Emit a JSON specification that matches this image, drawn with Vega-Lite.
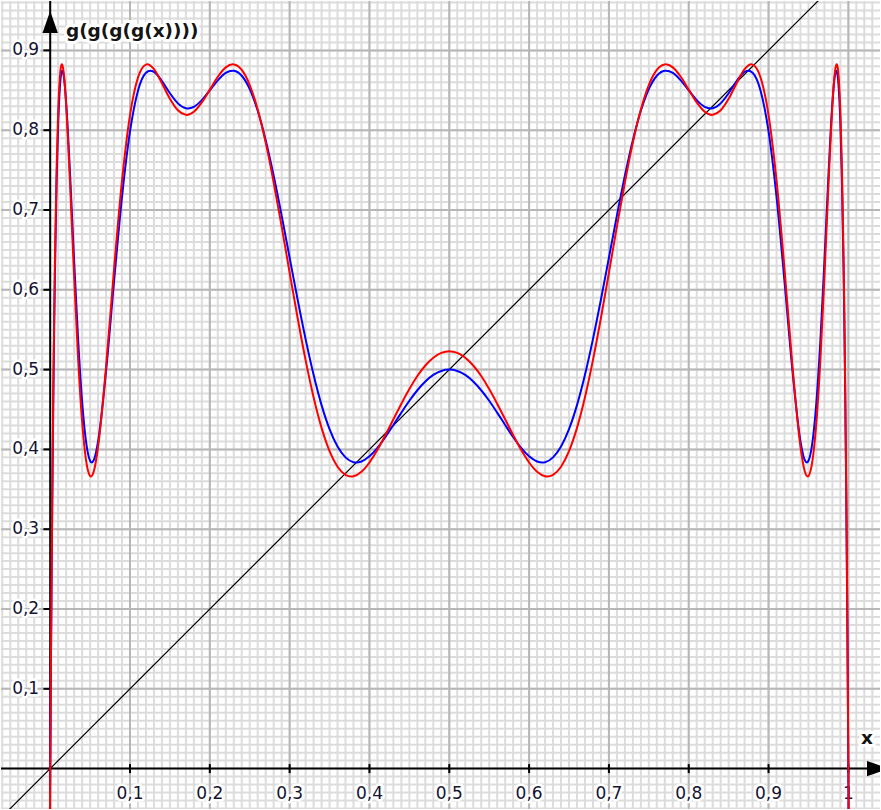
{
  "$schema": "https://vega.github.io/schema/vega-lite/v6.json",
  "width": 881,
  "height": 810,
  "autosize": {"type": "fit", "contains": "padding"},
  "padding": 0,
  "background": "white",
  "config": {"view": {"stroke": null}},
  "datasets": {
    "minor": [
      {"v": -0.06}, {"v": -0.05}, {"v": -0.04}, {"v": -0.03}, {"v": -0.02}, {"v": -0.01}, {"v": 0}, {"v": 0.01}, {"v": 0.02}, {"v": 0.03},
      {"v": 0.04}, {"v": 0.05}, {"v": 0.06}, {"v": 0.07}, {"v": 0.08}, {"v": 0.09}, {"v": 0.1}, {"v": 0.11}, {"v": 0.12}, {"v": 0.13},
      {"v": 0.14}, {"v": 0.15}, {"v": 0.16}, {"v": 0.17}, {"v": 0.18}, {"v": 0.19}, {"v": 0.2}, {"v": 0.21}, {"v": 0.22}, {"v": 0.23},
      {"v": 0.24}, {"v": 0.25}, {"v": 0.26}, {"v": 0.27}, {"v": 0.28}, {"v": 0.29}, {"v": 0.3}, {"v": 0.31}, {"v": 0.32}, {"v": 0.33},
      {"v": 0.34}, {"v": 0.35}, {"v": 0.36}, {"v": 0.37}, {"v": 0.38}, {"v": 0.39}, {"v": 0.4}, {"v": 0.41}, {"v": 0.42}, {"v": 0.43},
      {"v": 0.44}, {"v": 0.45}, {"v": 0.46}, {"v": 0.47}, {"v": 0.48}, {"v": 0.49}, {"v": 0.5}, {"v": 0.51}, {"v": 0.52}, {"v": 0.53},
      {"v": 0.54}, {"v": 0.55}, {"v": 0.56}, {"v": 0.57}, {"v": 0.58}, {"v": 0.59}, {"v": 0.6}, {"v": 0.61}, {"v": 0.62}, {"v": 0.63},
      {"v": 0.64}, {"v": 0.65}, {"v": 0.66}, {"v": 0.67}, {"v": 0.68}, {"v": 0.69}, {"v": 0.7}, {"v": 0.71}, {"v": 0.72}, {"v": 0.73},
      {"v": 0.74}, {"v": 0.75}, {"v": 0.76}, {"v": 0.77}, {"v": 0.78}, {"v": 0.79}, {"v": 0.8}, {"v": 0.81}, {"v": 0.82}, {"v": 0.83},
      {"v": 0.84}, {"v": 0.85}, {"v": 0.86}, {"v": 0.87}, {"v": 0.88}, {"v": 0.89}, {"v": 0.9}, {"v": 0.91}, {"v": 0.92}, {"v": 0.93},
      {"v": 0.94}, {"v": 0.95}, {"v": 0.96}, {"v": 0.97}, {"v": 0.98}, {"v": 0.99}, {"v": 1}, {"v": 1.01}, {"v": 1.02}, {"v": 1.03}
    ],
    "xlab": [
      {"v": 0.1, "t": "0,1"}, {"v": 0.2, "t": "0,2"}, {"v": 0.3, "t": "0,3"}, {"v": 0.4, "t": "0,4"}, {"v": 0.5, "t": "0,5"},
      {"v": 0.6, "t": "0,6"}, {"v": 0.7, "t": "0,7"}, {"v": 0.8, "t": "0,8"}, {"v": 0.9, "t": "0,9"}, {"v": 1, "t": "1"}
    ],
    "ylab": [
      {"v": 0.1, "t": "0,1"}, {"v": 0.2, "t": "0,2"}, {"v": 0.3, "t": "0,3"}, {"v": 0.4, "t": "0,4"}, {"v": 0.5, "t": "0,5"},
      {"v": 0.6, "t": "0,6"}, {"v": 0.7, "t": "0,7"}, {"v": 0.8, "t": "0,8"}, {"v": 0.9, "t": "0,9"}
    ],
    "diag": [{"x": -0.07, "y": -0.07}, {"x": 1.05, "y": 1.05}],
    "blue": [
      {"x": -0.003, "y": -0.5363}, {"x": 0, "y": 0}, {"x": 0.001, "y": 0.1411}, {"x": 0.002, "y": 0.2657}, {"x": 0.003, "y": 0.3752},
      {"x": 0.004, "y": 0.4705}, {"x": 0.005, "y": 0.553}, {"x": 0.006, "y": 0.6237}, {"x": 0.008, "y": 0.7336}, {"x": 0.01, "y": 0.8074},
      {"x": 0.012, "y": 0.8517}, {"x": 0.014, "y": 0.8719}, {"x": 0.0151, "y": 0.8746}, {"x": 0.016, "y": 0.8731}, {"x": 0.018, "y": 0.8594},
      {"x": 0.02, "y": 0.8345}, {"x": 0.025, "y": 0.7427}, {"x": 0.03, "y": 0.636}, {"x": 0.035, "y": 0.5375}, {"x": 0.04, "y": 0.4599},
      {"x": 0.045, "y": 0.4091}, {"x": 0.05, "y": 0.3857}, {"x": 0.0521, "y": 0.3836}, {"x": 0.055, "y": 0.3874}, {"x": 0.06, "y": 0.4101},
      {"x": 0.07, "y": 0.498}, {"x": 0.08, "y": 0.6104}, {"x": 0.09, "y": 0.7165}, {"x": 0.1, "y": 0.7984}, {"x": 0.11, "y": 0.8495},
      {"x": 0.12, "y": 0.872}, {"x": 0.1254, "y": 0.8746}, {"x": 0.13, "y": 0.873}, {"x": 0.14, "y": 0.8616}, {"x": 0.15, "y": 0.8463},
      {"x": 0.16, "y": 0.8336}, {"x": 0.17, "y": 0.8275}, {"x": 0.1728, "y": 0.8272}, {"x": 0.18, "y": 0.8292}, {"x": 0.19, "y": 0.8376},
      {"x": 0.2, "y": 0.8499}, {"x": 0.21, "y": 0.8625}, {"x": 0.22, "y": 0.8718}, {"x": 0.2283, "y": 0.8746}, {"x": 0.23, "y": 0.8745},
      {"x": 0.24, "y": 0.8682}, {"x": 0.25, "y": 0.8515}, {"x": 0.26, "y": 0.8243}, {"x": 0.27, "y": 0.7875}, {"x": 0.28, "y": 0.7429},
      {"x": 0.29, "y": 0.6929}, {"x": 0.3, "y": 0.6402}, {"x": 0.31, "y": 0.5878}, {"x": 0.32, "y": 0.5382}, {"x": 0.33, "y": 0.4935},
      {"x": 0.34, "y": 0.4555}, {"x": 0.35, "y": 0.4254}, {"x": 0.36, "y": 0.4036}, {"x": 0.37, "y": 0.39}, {"x": 0.38, "y": 0.384},
      {"x": 0.3836, "y": 0.3836}, {"x": 0.39, "y": 0.3849}, {"x": 0.4, "y": 0.3913}, {"x": 0.41, "y": 0.4019}, {"x": 0.42, "y": 0.4155},
      {"x": 0.43, "y": 0.4306}, {"x": 0.44, "y": 0.4461}, {"x": 0.45, "y": 0.4609}, {"x": 0.46, "y": 0.4741}, {"x": 0.47, "y": 0.4851},
      {"x": 0.48, "y": 0.4933}, {"x": 0.49, "y": 0.4983}, {"x": 0.5, "y": 0.5},
      {"x": 0.51, "y": 0.4983}, {"x": 0.52, "y": 0.4933}, {"x": 0.53, "y": 0.4851}, {"x": 0.54, "y": 0.4741}, {"x": 0.55, "y": 0.4609},
      {"x": 0.56, "y": 0.4461}, {"x": 0.57, "y": 0.4306}, {"x": 0.58, "y": 0.4155}, {"x": 0.59, "y": 0.4019}, {"x": 0.6, "y": 0.3913},
      {"x": 0.61, "y": 0.3849}, {"x": 0.6164, "y": 0.3836}, {"x": 0.62, "y": 0.384}, {"x": 0.63, "y": 0.39}, {"x": 0.64, "y": 0.4036},
      {"x": 0.65, "y": 0.4254}, {"x": 0.66, "y": 0.4555}, {"x": 0.67, "y": 0.4935}, {"x": 0.68, "y": 0.5382}, {"x": 0.69, "y": 0.5878},
      {"x": 0.7, "y": 0.6402}, {"x": 0.71, "y": 0.6929}, {"x": 0.72, "y": 0.7429}, {"x": 0.73, "y": 0.7875}, {"x": 0.74, "y": 0.8243},
      {"x": 0.75, "y": 0.8515}, {"x": 0.76, "y": 0.8682}, {"x": 0.77, "y": 0.8745}, {"x": 0.7717, "y": 0.8746}, {"x": 0.78, "y": 0.8718},
      {"x": 0.79, "y": 0.8625}, {"x": 0.8, "y": 0.8499}, {"x": 0.81, "y": 0.8376}, {"x": 0.82, "y": 0.8292}, {"x": 0.8272, "y": 0.8272},
      {"x": 0.83, "y": 0.8275}, {"x": 0.84, "y": 0.8336}, {"x": 0.85, "y": 0.8463}, {"x": 0.86, "y": 0.8616}, {"x": 0.87, "y": 0.873},
      {"x": 0.8746, "y": 0.8746}, {"x": 0.88, "y": 0.872}, {"x": 0.89, "y": 0.8495}, {"x": 0.9, "y": 0.7984}, {"x": 0.91, "y": 0.7165},
      {"x": 0.92, "y": 0.6104}, {"x": 0.93, "y": 0.498}, {"x": 0.94, "y": 0.4101}, {"x": 0.945, "y": 0.3874}, {"x": 0.9479, "y": 0.3836},
      {"x": 0.95, "y": 0.3857}, {"x": 0.955, "y": 0.4091}, {"x": 0.96, "y": 0.4599}, {"x": 0.965, "y": 0.5375}, {"x": 0.97, "y": 0.636},
      {"x": 0.975, "y": 0.7427}, {"x": 0.98, "y": 0.8345}, {"x": 0.982, "y": 0.8594}, {"x": 0.984, "y": 0.8731}, {"x": 0.9849, "y": 0.8746},
      {"x": 0.986, "y": 0.8719}, {"x": 0.988, "y": 0.8517}, {"x": 0.99, "y": 0.8074}, {"x": 0.992, "y": 0.7336}, {"x": 0.994, "y": 0.6237},
      {"x": 0.995, "y": 0.553}, {"x": 0.996, "y": 0.4705}, {"x": 0.997, "y": 0.3752}, {"x": 0.998, "y": 0.2657}, {"x": 0.999, "y": 0.1411},
      {"x": 1, "y": 0}, {"x": 1.003, "y": -0.5363}
    ],
    "red": [
      {"x": -0.003, "y": -0.5582}, {"x": 0, "y": 0}, {"x": 0.001, "y": 0.1461}, {"x": 0.002, "y": 0.2746}, {"x": 0.003, "y": 0.3871},
      {"x": 0.004, "y": 0.4847}, {"x": 0.005, "y": 0.5688}, {"x": 0.006, "y": 0.6404}, {"x": 0.008, "y": 0.7506}, {"x": 0.01, "y": 0.823},
      {"x": 0.012, "y": 0.8647}, {"x": 0.014, "y": 0.8815}, {"x": 0.0147, "y": 0.8825}, {"x": 0.016, "y": 0.8787}, {"x": 0.018, "y": 0.8608},
      {"x": 0.02, "y": 0.8316}, {"x": 0.025, "y": 0.7299}, {"x": 0.03, "y": 0.6159}, {"x": 0.035, "y": 0.5131}, {"x": 0.04, "y": 0.4347},
      {"x": 0.045, "y": 0.3858}, {"x": 0.05, "y": 0.3666}, {"x": 0.051, "y": 0.366}, {"x": 0.055, "y": 0.3739}, {"x": 0.06, "y": 0.403},
      {"x": 0.07, "y": 0.5038}, {"x": 0.08, "y": 0.6259}, {"x": 0.09, "y": 0.737}, {"x": 0.1, "y": 0.8189}, {"x": 0.11, "y": 0.866},
      {"x": 0.12, "y": 0.8822}, {"x": 0.1216, "y": 0.8825}, {"x": 0.13, "y": 0.8764}, {"x": 0.14, "y": 0.8589}, {"x": 0.15, "y": 0.8394},
      {"x": 0.16, "y": 0.8249}, {"x": 0.17, "y": 0.8192}, {"x": 0.1708, "y": 0.8191}, {"x": 0.18, "y": 0.8231}, {"x": 0.19, "y": 0.8348},
      {"x": 0.2, "y": 0.8508}, {"x": 0.21, "y": 0.8669}, {"x": 0.22, "y": 0.8787}, {"x": 0.2288, "y": 0.8825}, {"x": 0.23, "y": 0.8824},
      {"x": 0.24, "y": 0.8755}, {"x": 0.25, "y": 0.8566}, {"x": 0.26, "y": 0.8258}, {"x": 0.27, "y": 0.7844}, {"x": 0.28, "y": 0.7345},
      {"x": 0.29, "y": 0.6791}, {"x": 0.3, "y": 0.6214}, {"x": 0.31, "y": 0.5647}, {"x": 0.32, "y": 0.5119}, {"x": 0.33, "y": 0.4654},
      {"x": 0.34, "y": 0.427}, {"x": 0.35, "y": 0.3979}, {"x": 0.36, "y": 0.3783}, {"x": 0.37, "y": 0.3681}, {"x": 0.3771, "y": 0.366},
      {"x": 0.38, "y": 0.3664}, {"x": 0.39, "y": 0.372}, {"x": 0.4, "y": 0.3836}, {"x": 0.41, "y": 0.3994}, {"x": 0.42, "y": 0.418},
      {"x": 0.43, "y": 0.4377}, {"x": 0.44, "y": 0.4573}, {"x": 0.45, "y": 0.4757}, {"x": 0.46, "y": 0.4919}, {"x": 0.47, "y": 0.5051},
      {"x": 0.48, "y": 0.5149}, {"x": 0.49, "y": 0.5209}, {"x": 0.5, "y": 0.523},
      {"x": 0.51, "y": 0.5209}, {"x": 0.52, "y": 0.5149}, {"x": 0.53, "y": 0.5051}, {"x": 0.54, "y": 0.4919}, {"x": 0.55, "y": 0.4757},
      {"x": 0.56, "y": 0.4573}, {"x": 0.57, "y": 0.4377}, {"x": 0.58, "y": 0.418}, {"x": 0.59, "y": 0.3994}, {"x": 0.6, "y": 0.3836},
      {"x": 0.61, "y": 0.372}, {"x": 0.62, "y": 0.3664}, {"x": 0.6229, "y": 0.366}, {"x": 0.63, "y": 0.3681}, {"x": 0.64, "y": 0.3783},
      {"x": 0.65, "y": 0.3979}, {"x": 0.66, "y": 0.427}, {"x": 0.67, "y": 0.4654}, {"x": 0.68, "y": 0.5119}, {"x": 0.69, "y": 0.5647},
      {"x": 0.7, "y": 0.6214}, {"x": 0.71, "y": 0.6791}, {"x": 0.72, "y": 0.7345}, {"x": 0.73, "y": 0.7844}, {"x": 0.74, "y": 0.8258},
      {"x": 0.75, "y": 0.8566}, {"x": 0.76, "y": 0.8755}, {"x": 0.77, "y": 0.8824}, {"x": 0.7712, "y": 0.8825}, {"x": 0.78, "y": 0.8787},
      {"x": 0.79, "y": 0.8669}, {"x": 0.8, "y": 0.8508}, {"x": 0.81, "y": 0.8348}, {"x": 0.82, "y": 0.8231}, {"x": 0.8292, "y": 0.8191},
      {"x": 0.83, "y": 0.8192}, {"x": 0.84, "y": 0.8249}, {"x": 0.85, "y": 0.8394}, {"x": 0.86, "y": 0.8589}, {"x": 0.87, "y": 0.8764},
      {"x": 0.8784, "y": 0.8825}, {"x": 0.88, "y": 0.8822}, {"x": 0.89, "y": 0.866}, {"x": 0.9, "y": 0.8189}, {"x": 0.91, "y": 0.737},
      {"x": 0.92, "y": 0.6259}, {"x": 0.93, "y": 0.5038}, {"x": 0.94, "y": 0.403}, {"x": 0.945, "y": 0.3739}, {"x": 0.949, "y": 0.366},
      {"x": 0.95, "y": 0.3666}, {"x": 0.955, "y": 0.3858}, {"x": 0.96, "y": 0.4347}, {"x": 0.965, "y": 0.5131}, {"x": 0.97, "y": 0.6159},
      {"x": 0.975, "y": 0.7299}, {"x": 0.98, "y": 0.8316}, {"x": 0.982, "y": 0.8608}, {"x": 0.984, "y": 0.8787}, {"x": 0.9853, "y": 0.8825},
      {"x": 0.986, "y": 0.8815}, {"x": 0.988, "y": 0.8647}, {"x": 0.99, "y": 0.823}, {"x": 0.992, "y": 0.7506}, {"x": 0.994, "y": 0.6404},
      {"x": 0.995, "y": 0.5688}, {"x": 0.996, "y": 0.4847}, {"x": 0.997, "y": 0.3871}, {"x": 0.998, "y": 0.2746}, {"x": 0.999, "y": 0.1461},
      {"x": 1, "y": 0}, {"x": 1.003, "y": -0.5582}
    ]
  },
  "layer": [
    {
      "description": "fine vertical grid, every 0.01",
      "data": {"name": "minor"},
      "mark": {"type": "rule", "color": "#dcdcdc", "strokeWidth": 2, "clip": true},
      "encoding": {
        "x": {"field": "v", "type": "quantitative", "scale": {"domain": [-0.061625, 1.039625], "nice": false, "zero": false}, "axis": null}
      }
    },
    {
      "description": "fine horizontal grid, every 0.01",
      "data": {"name": "minor"},
      "mark": {"type": "rule", "color": "#dcdcdc", "strokeWidth": 2, "clip": true},
      "encoding": {
        "y": {"field": "v", "type": "quantitative", "scale": {"domain": [-0.050625, 0.961875], "nice": false, "zero": false}, "axis": null}
      }
    },
    {
      "description": "major vertical grid lines",
      "data": {"name": "xlab"},
      "mark": {"type": "rule", "color": "#b7b7b7", "strokeWidth": 2},
      "encoding": {
        "x": {"field": "v", "type": "quantitative", "scale": {"domain": [-0.061625, 1.039625], "nice": false, "zero": false}, "axis": null}
      }
    },
    {
      "description": "major horizontal grid lines",
      "data": {"name": "ylab"},
      "mark": {"type": "rule", "color": "#b7b7b7", "strokeWidth": 2},
      "encoding": {
        "y": {"field": "v", "type": "quantitative", "scale": {"domain": [-0.050625, 0.961875], "nice": false, "zero": false}, "axis": null}
      }
    },
    {
      "data": {"values": [{}]},
      "mark": {"type": "rule", "color": "black", "strokeWidth": 2},
      "encoding": {
        "y": {"datum": 0, "type": "quantitative", "scale": {"domain": [-0.050625, 0.961875], "nice": false, "zero": false}, "axis": null}
      }
    },
    {
      "data": {"values": [{}]},
      "mark": {"type": "rule", "color": "black", "strokeWidth": 2},
      "encoding": {
        "x": {"datum": 0, "type": "quantitative", "scale": {"domain": [-0.061625, 1.039625], "nice": false, "zero": false}, "axis": null}
      }
    },
    {
      "description": "tick marks across the x axis",
      "data": {"name": "xlab"},
      "mark": {"type": "rule", "color": "black", "strokeWidth": 2},
      "encoding": {
        "x": {"field": "v", "type": "quantitative", "scale": {"domain": [-0.061625, 1.039625], "nice": false, "zero": false}, "axis": null},
        "y": {"datum": -0.0056, "type": "quantitative", "scale": {"domain": [-0.050625, 0.961875], "nice": false, "zero": false}, "axis": null},
        "y2": {"datum": 0.0056}
      }
    },
    {
      "description": "tick marks left of the y axis",
      "data": {"name": "ylab"},
      "mark": {"type": "rule", "color": "black", "strokeWidth": 2},
      "encoding": {
        "x": {"datum": -0.0085, "type": "quantitative", "scale": {"domain": [-0.061625, 1.039625], "nice": false, "zero": false}, "axis": null},
        "x2": {"datum": 0},
        "y": {"field": "v", "type": "quantitative", "scale": {"domain": [-0.050625, 0.961875], "nice": false, "zero": false}, "axis": null}
      }
    },
    {
      "description": "the diagonal y = x",
      "data": {"name": "diag"},
      "mark": {"type": "line", "color": "black", "strokeWidth": 1.2, "clip": true},
      "encoding": {
        "x": {"field": "x", "type": "quantitative", "scale": {"domain": [-0.061625, 1.039625], "nice": false, "zero": false}, "axis": null},
        "y": {"field": "y", "type": "quantitative", "scale": {"domain": [-0.050625, 0.961875], "nice": false, "zero": false}, "axis": null}
      }
    },
    {
      "data": {"name": "xlab"},
      "mark": {"type": "text", "fill": "white", "stroke": "white", "strokeWidth": 5, "strokeJoin": "round",
               "font": "DejaVu Sans", "fontSize": 17, "align": "center", "baseline": "middle", "dy": 25.5},
      "encoding": {
        "x": {"field": "v", "type": "quantitative", "scale": {"domain": [-0.061625, 1.039625], "nice": false, "zero": false}, "axis": null},
        "y": {"datum": 0, "type": "quantitative", "scale": {"domain": [-0.050625, 0.961875], "nice": false, "zero": false}, "axis": null},
        "text": {"field": "t"}
      }
    },
    {
      "data": {"name": "ylab"},
      "mark": {"type": "text", "fill": "white", "stroke": "white", "strokeWidth": 5, "strokeJoin": "round",
               "font": "DejaVu Sans", "fontSize": 17, "align": "right", "baseline": "middle", "dx": -11},
      "encoding": {
        "x": {"datum": 0, "type": "quantitative", "scale": {"domain": [-0.061625, 1.039625], "nice": false, "zero": false}, "axis": null},
        "y": {"field": "v", "type": "quantitative", "scale": {"domain": [-0.050625, 0.961875], "nice": false, "zero": false}, "axis": null},
        "text": {"field": "t"}
      }
    },
    {
      "data": {"name": "xlab"},
      "mark": {"type": "text", "color": "#141432", "font": "DejaVu Sans", "fontSize": 17, "align": "center", "baseline": "middle", "dy": 25.5},
      "encoding": {
        "x": {"field": "v", "type": "quantitative", "scale": {"domain": [-0.061625, 1.039625], "nice": false, "zero": false}, "axis": null},
        "y": {"datum": 0, "type": "quantitative", "scale": {"domain": [-0.050625, 0.961875], "nice": false, "zero": false}, "axis": null},
        "text": {"field": "t"}
      }
    },
    {
      "data": {"name": "ylab"},
      "mark": {"type": "text", "color": "#141432", "font": "DejaVu Sans", "fontSize": 17, "align": "right", "baseline": "middle", "dx": -11},
      "encoding": {
        "x": {"datum": 0, "type": "quantitative", "scale": {"domain": [-0.061625, 1.039625], "nice": false, "zero": false}, "axis": null},
        "y": {"field": "v", "type": "quantitative", "scale": {"domain": [-0.050625, 0.961875], "nice": false, "zero": false}, "axis": null},
        "text": {"field": "t"}
      }
    },
    {
      "data": {"values": [{}]},
      "mark": {"type": "text", "text": "g(g(g(g(x))))", "fill": "white", "stroke": "white", "strokeWidth": 6, "strokeJoin": "round",
               "font": "DejaVu Sans", "fontWeight": "bold", "fontSize": 18.5, "align": "left", "baseline": "middle", "dx": 15.7},
      "encoding": {
        "x": {"datum": 0, "type": "quantitative", "scale": {"domain": [-0.061625, 1.039625], "nice": false, "zero": false}, "axis": null},
        "y": {"datum": 0.9244, "type": "quantitative", "scale": {"domain": [-0.050625, 0.961875], "nice": false, "zero": false}, "axis": null}
      }
    },
    {
      "data": {"values": [{}]},
      "mark": {"type": "text", "text": "g(g(g(g(x))))", "color": "#141414",
               "font": "DejaVu Sans", "fontWeight": "bold", "fontSize": 18.5, "align": "left", "baseline": "middle", "dx": 15.7},
      "encoding": {
        "x": {"datum": 0, "type": "quantitative", "scale": {"domain": [-0.061625, 1.039625], "nice": false, "zero": false}, "axis": null},
        "y": {"datum": 0.9244, "type": "quantitative", "scale": {"domain": [-0.050625, 0.961875], "nice": false, "zero": false}, "axis": null}
      }
    },
    {
      "data": {"values": [{}]},
      "mark": {"type": "text", "text": "x", "fill": "white", "stroke": "white", "strokeWidth": 6, "strokeJoin": "round",
               "font": "DejaVu Sans", "fontWeight": "bold", "fontSize": 18.5, "align": "center", "baseline": "middle"},
      "encoding": {
        "x": {"datum": 1.0234, "type": "quantitative", "scale": {"domain": [-0.061625, 1.039625], "nice": false, "zero": false}, "axis": null},
        "y": {"datum": 0.0381, "type": "quantitative", "scale": {"domain": [-0.050625, 0.961875], "nice": false, "zero": false}, "axis": null}
      }
    },
    {
      "data": {"values": [{}]},
      "mark": {"type": "text", "text": "x", "color": "#141414",
               "font": "DejaVu Sans", "fontWeight": "bold", "fontSize": 18.5, "align": "center", "baseline": "middle"},
      "encoding": {
        "x": {"datum": 1.0234, "type": "quantitative", "scale": {"domain": [-0.061625, 1.039625], "nice": false, "zero": false}, "axis": null},
        "y": {"datum": 0.0381, "type": "quantitative", "scale": {"domain": [-0.050625, 0.961875], "nice": false, "zero": false}, "axis": null}
      }
    },
    {
      "description": "fourth iterate, r = 3.4986",
      "data": {"name": "blue"},
      "mark": {"type": "line", "color": "#0000ff", "strokeWidth": 2, "interpolate": "monotone", "clip": true},
      "encoding": {
        "x": {"field": "x", "type": "quantitative", "scale": {"domain": [-0.061625, 1.039625], "nice": false, "zero": false}, "axis": null},
        "y": {"field": "y", "type": "quantitative", "scale": {"domain": [-0.050625, 0.961875], "nice": false, "zero": false}, "axis": null}
      }
    },
    {
      "description": "fourth iterate, r = 3.53",
      "data": {"name": "red"},
      "mark": {"type": "line", "color": "#ff0000", "strokeWidth": 2, "interpolate": "monotone", "clip": true},
      "encoding": {
        "x": {"field": "x", "type": "quantitative", "scale": {"domain": [-0.061625, 1.039625], "nice": false, "zero": false}, "axis": null},
        "y": {"field": "y", "type": "quantitative", "scale": {"domain": [-0.050625, 0.961875], "nice": false, "zero": false}, "axis": null}
      }
    },
    {
      "description": "arrow head of the vertical axis",
      "data": {"values": [{}]},
      "mark": {"type": "point", "shape": "M0,-1L0.7,1L-0.7,1Z", "size": 484, "filled": true, "color": "black", "opacity": 1, "clip": true},
      "encoding": {
        "x": {"datum": 0, "type": "quantitative", "scale": {"domain": [-0.061625, 1.039625], "nice": false, "zero": false}, "axis": null},
        "y": {"datum": 0.9356, "type": "quantitative", "scale": {"domain": [-0.050625, 0.961875], "nice": false, "zero": false}, "axis": null}
      }
    },
    {
      "description": "arrow head of the horizontal axis",
      "data": {"values": [{}]},
      "mark": {"type": "point", "shape": "M1,0L-1,-0.7L-1,0.7Z", "size": 484, "filled": true, "color": "black", "opacity": 1, "clip": true},
      "encoding": {
        "x": {"datum": 1.0371, "type": "quantitative", "scale": {"domain": [-0.061625, 1.039625], "nice": false, "zero": false}, "axis": null},
        "y": {"datum": 0, "type": "quantitative", "scale": {"domain": [-0.050625, 0.961875], "nice": false, "zero": false}, "axis": null}
      }
    }
  ]
}
